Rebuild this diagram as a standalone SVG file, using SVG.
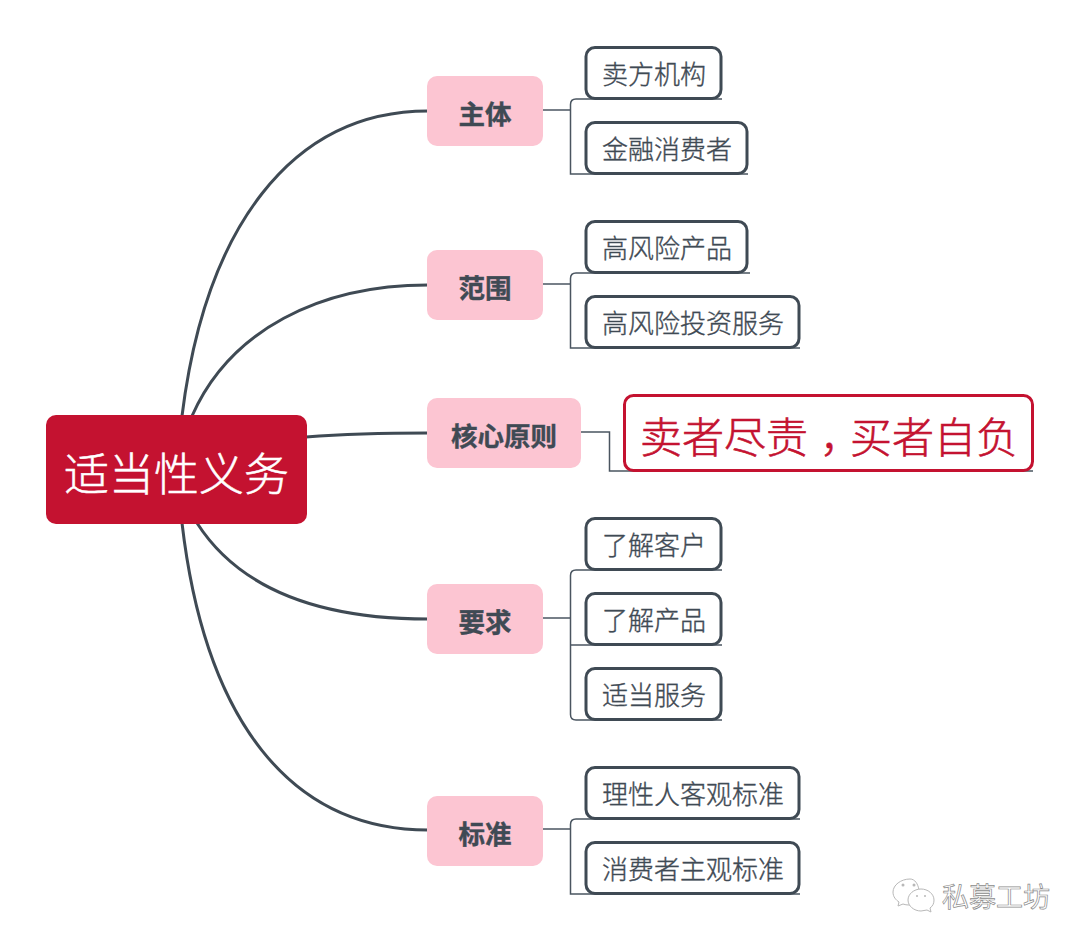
<svg xmlns="http://www.w3.org/2000/svg" width="1085" height="945" viewBox="0 0 1085 945">
<style>
text{font-family:"Noto Sans CJK SC","Noto Sans",sans-serif;text-anchor:middle;dominant-baseline:central}
.main{fill:none;stroke:#3f4a54;stroke-width:3}
.thin{fill:none;stroke:#4a5560;stroke-width:1.500}
.sec rect{fill:#fcc5d2}
.sec text{font-size:26.500px;font-weight:700;fill:#3f4a54;stroke:#3f4a54;stroke-width:.4}
.leaf rect{fill:#fff;stroke:#3f4a54;stroke-width:3}
.leaf text{font-size:26px;font-weight:300;fill:#3f4a54;stroke:#3f4a54;stroke-width:.35}
</style>
<rect width="1085" height="945" fill="#fff"/>
<g id="connectors">
<path class="main" d="M182 416C205 230 290 111 428 111"/>
<path class="main" d="M192 416C230 330 320 285 428 285"/>
<path class="main" d="M306 437C345 434 385 433 428 433"/>
<path class="main" d="M197 523C240 590 320 619 428 619"/>
<path class="main" d="M182 523C205 720 290 830 428 830"/>
<path class="thin" d="M543 110H570.500"/>
<path class="thin" d="M722 99H576Q570.500 99 570.500 104.500V174H748"/>
<path class="thin" d="M543 284H570.500"/>
<path class="thin" d="M750 273H576Q570.500 273 570.500 278.500V348H800"/>
<path class="thin" d="M581 432H609.500V471H1033"/>
<path class="thin" d="M543 618H570.500"/>
<path class="thin" d="M722 570H576Q570.500 570 570.500 575.500V714.500Q570.500 720 576 720H722"/>
<path class="thin" d="M570.500 645H722"/>
<path class="thin" d="M543 829H570.500"/>
<path class="thin" d="M800 819H576Q570.500 819 570.500 824.500V894H800"/>
</g>
<g id="root"><rect x="46" y="415" width="261" height="109" rx="10" fill="#c41230"/><text x="176.500" y="471" font-size="45" font-weight="300" fill="#fff" stroke="#fff" stroke-width=".5">适当性义务</text></g>
<g id="n-zhuti" class="sec"><rect x="427" y="76" width="116" height="70" rx="10"/><text x="485" y="112">主体</text></g>
<g id="n-fanwei" class="sec"><rect x="427" y="250" width="116" height="70" rx="10"/><text x="485" y="286">范围</text></g>
<g id="n-hexin" class="sec"><rect x="427" y="398" width="154" height="70" rx="10"/><text x="504" y="434">核心原则</text></g>
<g id="n-yaoqiu" class="sec"><rect x="427" y="584" width="116" height="70" rx="10"/><text x="485" y="620">要求</text></g>
<g id="n-biaozhun" class="sec"><rect x="427" y="796" width="116" height="70" rx="10"/><text x="485" y="832">标准</text></g>
<g id="l1" class="leaf"><rect x="586" y="47.500" width="135" height="51" rx="9"/><text x="654" y="72">卖方机构</text></g>
<g id="l2" class="leaf"><rect x="586" y="122.500" width="161" height="51" rx="9"/><text x="667" y="147">金融消费者</text></g>
<g id="l3" class="leaf"><rect x="586" y="221.500" width="161" height="51" rx="9"/><text x="667" y="246">高风险产品</text></g>
<g id="l4" class="leaf"><rect x="586" y="296.500" width="213" height="51" rx="9"/><text x="693" y="321">高风险投资服务</text></g>
<g id="l5"><rect x="624.500" y="395.500" width="408" height="75" rx="9" fill="#fff" stroke="#c41230" stroke-width="3"/><text x="829" y="434" font-size="42" font-weight="300" fill="#c41230" stroke="#c41230" stroke-width=".6">卖者尽责<tspan font-family="'Noto Sans CJK TC',sans-serif" dy="12">，</tspan><tspan dy="-12">买者自负</tspan></text></g>
<g id="l6" class="leaf"><rect x="586" y="518.500" width="135" height="51" rx="9"/><text x="654" y="543">了解客户</text></g>
<g id="l7" class="leaf"><rect x="586" y="593.500" width="135" height="51" rx="9"/><text x="654" y="618">了解产品</text></g>
<g id="l8" class="leaf"><rect x="586" y="668.500" width="135" height="51" rx="9"/><text x="654" y="693">适当服务</text></g>
<g id="l9" class="leaf"><rect x="586" y="767.500" width="213" height="51" rx="9"/><text x="693" y="792">理性人客观标准</text></g>
<g id="l10" class="leaf"><rect x="586" y="842.500" width="213" height="51" rx="9"/><text x="693" y="867">消费者主观标准</text></g>
<g id="watermark">
<g fill="#fff" stroke="#b8b8b8" stroke-width="1">
<path d="M910 879C901 879 893 885 893 892C893 897 896 900 899 902L898 906L903 904C906 905 908 905 911 905L919 890C918 884 915 879 910 879Z"/>
<path d="M921 889C914 889 908 894 908 900C908 906 914 911 921 911C923 911 925 910 927 910L931 912L930 908C933 906 934 903 934 900C934 894 928 889 921 889Z"/>
</g>
<g fill="#b8b8b8"><circle cx="903" cy="885" r="1.500"/><circle cx="914" cy="885" r="1.500"/><circle cx="917" cy="896" r="1"/><circle cx="925" cy="896" r="1"/></g>
<text x="996" y="895" font-size="27" fill="#fff" stroke="#8a8a8a" stroke-width="0.700">私募工坊</text>
</g>
</svg>
